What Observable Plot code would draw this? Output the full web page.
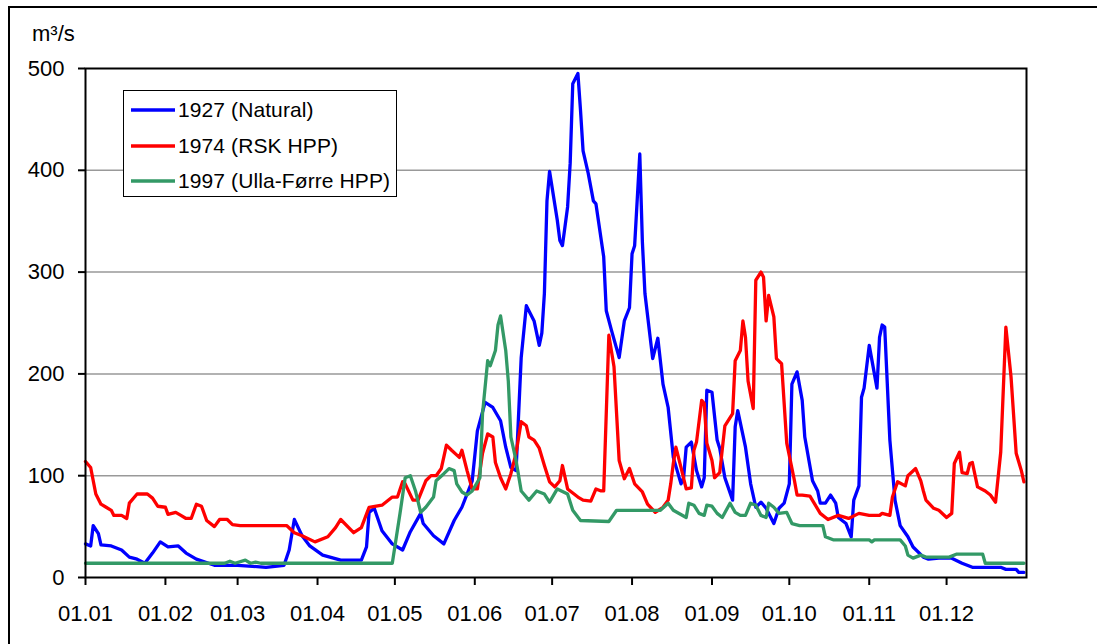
<!DOCTYPE html>
<html>
<head>
<meta charset="utf-8">
<script src="https://cdn.jsdelivr.net/npm/d3@7"></script>
<script src="https://cdn.jsdelivr.net/npm/@observablehq/plot@0.6"></script>
<style>
  html, body { margin: 0; padding: 0; background: #fff; }
  body { width: 1097px; height: 644px; position: relative; overflow: hidden; font-family: "Liberation Sans", Arial, sans-serif; }
  #outer { position: absolute; left: 8px; top: 6px; width: 1095px; height: 644px; border-top: 2px solid #000; border-left: 2px solid #000; }
  #chart { position: absolute; left: 0; top: 0; }
  #ylabel { position: absolute; left: 32px; top: 23px; font-size: 22px; line-height: 22px; color: #000; }
  #legend { position: absolute; left: 123px; top: 90px; width: 272px; height: 105px; border: 1.5px solid #000; background: #fff; }
  .row { position: absolute; left: 0; height: 24px; }
  .row svg { position: absolute; left: 6px; top: 0; }
  .row span { position: absolute; left: 54px; top: 0px; font-size: 21px; line-height: 24px; white-space: nowrap; color: #000; letter-spacing: 0.1px; }
</style>
</head>
<body>
<div id="outer"></div>
<div id="chart"></div>
<div id="ylabel">m³/s</div>
<div id="legend"></div>
<script>
// Series: day of year (0 = 1 Jan) and discharge in m³/s
const seriesNames = ["1927 (Natural)", "1974 (RSK HPP)", "1997 (Ulla-Førre HPP)"];
const seriesColors = ["#0000FF", "#FF0000", "#339966"];

const natDays = [0,2,3,5,6,10,14,17,20,23,26,29,32,36,39,43,50,59,70,77,79,81,84,87,92,99,107,109,110,112,115,119,123,126,130,131,135,139,143,146,150,152,155,158,161,163,165,167,169,171,174,176,177,178,179,180,183,184,185,187,188,189,191,192,193,195,197,198,201,202,204,207,209,211,212,213,215,216,217,220,222,224,226,228,231,232,233,235,237,239,240,241,243,245,246,248,251,252,253,256,258,260,262,264,267,269,271,273,274,276,278,279,282,284,285,287,289,291,292,295,297,298,300,301,302,304,307,308,309,310,312,314,316,319,321,325,327,331,336,340,344,355,357,361,362,364];
const natQ = [33,31,51,43,32,31,27,20,18,14,24,35,30,31,24,18,12,12,10,12,27,57,41,31,22,17,17,30,64,68,46,33,27,45,63,53,41,33,56,69,95,144,172,167,154,128,108,105,216,267,252,228,240,279,370,399,351,331,326,364,407,485,495,459,419,397,370,367,315,262,243,216,252,265,318,326,416,330,279,215,235,190,167,118,92,98,128,133,105,89,98,184,182,135,127,98,76,148,164,128,92,69,74,68,53,68,73,92,190,202,174,138,95,85,73,73,81,73,59,53,40,76,90,177,186,228,186,236,248,246,135,76,51,40,30,20,18,19,19,14,10,10,8,8,5,5];

const rskDays = [0,2,3,4,6,8,10,11,14,16,17,20,24,26,28,31,32,35,37,39,41,43,45,47,50,52,55,57,60,78,81,84,89,94,97,99,104,107,110,115,119,121,123,124,127,129,132,134,136,138,140,142,145,146,148,150,152,154,156,158,159,161,163,165,167,169,171,172,174,176,178,180,182,184,185,187,191,193,196,198,200,201,203,205,207,209,211,213,216,218,221,224,226,227,228,229,231,233,235,236,237,239,240,241,243,244,246,248,251,252,254,255,256,257,259,260,262,263,264,265,267,268,270,272,275,276,278,281,285,288,292,296,300,304,308,309,312,313,315,318,319,322,324,325,326,329,331,334,336,337,339,340,342,343,344,346,349,351,353,355,357,359,361,363,364];
const rskQ = [114,108,95,82,72,69,66,61,61,58,73,82,82,78,70,69,62,64,61,58,58,72,70,56,50,57,57,52,51,51,44,41,35,40,49,57,44,49,69,71,79,79,94,92,76,76,95,100,100,107,130,125,118,125,105,87,87,122,141,138,113,98,87,102,122,153,149,138,135,127,110,94,89,95,110,87,79,76,75,87,85,85,238,207,115,97,107,92,84,72,64,69,76,92,112,128,108,87,88,125,133,174,171,132,115,98,103,149,161,213,223,252,236,193,166,292,300,295,252,277,256,215,210,132,95,81,81,80,63,57,61,58,63,61,61,63,61,79,94,90,100,107,95,85,76,68,66,59,63,112,123,103,102,112,113,89,85,81,74,123,246,197,122,105,94];

const ullaDays = [0,54,56,58,62,64,66,68,119,122,124,126,128,130,132,135,136,139,141,143,144,146,148,150,153,154,156,157,159,160,161,163,164,165,167,169,170,172,175,178,180,183,187,189,192,203,206,223,226,228,233,234,236,238,240,241,243,245,247,250,252,254,256,258,260,262,264,265,267,269,272,274,277,286,287,290,304,305,306,316,318,319,321,324,326,335,338,348,349,364];
const ullaQ = [14,14,16,14,17,14,15,14,14,63,98,100,85,64,69,79,95,102,107,105,92,84,81,85,98,161,213,208,223,248,257,223,193,138,115,85,82,76,85,82,74,87,82,66,56,55,66,66,73,66,59,73,71,63,61,71,70,63,59,73,64,61,61,73,71,61,59,73,69,63,64,53,51,51,40,37,37,35,37,37,31,22,19,22,20,20,23,23,14,14];

const monthLabels = ["01.01","01.02","01.03","01.04","01.05","01.06","01.07","01.08","01.09","01.10","01.11","01.12"];
const yTicks = [0,100,200,300,400,500];
const gridValues = [100,200,300,400];

const YEAR = 1999; // non-leap reference year for day-of-year positions
const dayToDate = d => new Date(Date.UTC(YEAR, 0, 1) + d * 864e5);
const monthDates = monthLabels.map((_, i) => new Date(Date.UTC(YEAR, i, 1)));

function build(days, q, name) {
  return days.map((d, i) => ({date: dayToDate(d), value: q[i], series: name}));
}
const rows = [
  ...build(natDays, natQ, seriesNames[0]),
  ...build(rskDays, rskQ, seriesNames[1]),
  ...build(ullaDays, ullaQ, seriesNames[2])
];

const chart = Plot.plot({
  width: 1097,
  height: 644,
  marginLeft: 85,
  marginRight: 71,
  marginTop: 68,
  marginBottom: 67,
  style: {fontFamily: "'Liberation Sans', Arial, sans-serif", fontSize: "22px", color: "#000", background: "transparent", overflow: "visible"},
  x: {type: "utc", domain: [new Date(Date.UTC(YEAR, 0, 1)), new Date(Date.UTC(YEAR + 1, 0, 1))]},
  y: {domain: [0, 500]},
  color: {domain: seriesNames, range: seriesColors},
  marks: [
    Plot.ruleY(gridValues, {stroke: "#999", strokeWidth: 1.5}),
    Plot.line(rows, {x: "date", y: "value", z: "series", stroke: "series", strokeWidth: 3.3, strokeLinejoin: "round"}),
    Plot.frame({stroke: "#000", strokeWidth: 2}),
    Plot.axisY({ticks: yTicks, tickSize: 7, tickPadding: 14, tickFormat: d => String(d), label: null, stroke: "#000", strokeWidth: 2, fontSize: 22}),
    Plot.axisX({ticks: monthDates, tickSize: 8, tickPadding: 20, tickFormat: (d, i) => monthLabels[i], label: null, stroke: "#000", strokeWidth: 2, fontSize: 22})
  ]
});
document.getElementById("chart").appendChild(chart);

// Legend
const legend = document.getElementById("legend");
const rowTops = [7, 43, 78];
seriesNames.forEach((name, i) => {
  const r = document.createElement("div");
  r.className = "row";
  r.style.top = rowTops[i] + "px";
  r.innerHTML = `<svg width="46" height="24"><line x1="1" x2="45" y1="12" y2="12" stroke="${seriesColors[i]}" stroke-width="3.5"/></svg><span>${name}</span>`;
  legend.appendChild(r);
});
</script>
</body>
</html>
